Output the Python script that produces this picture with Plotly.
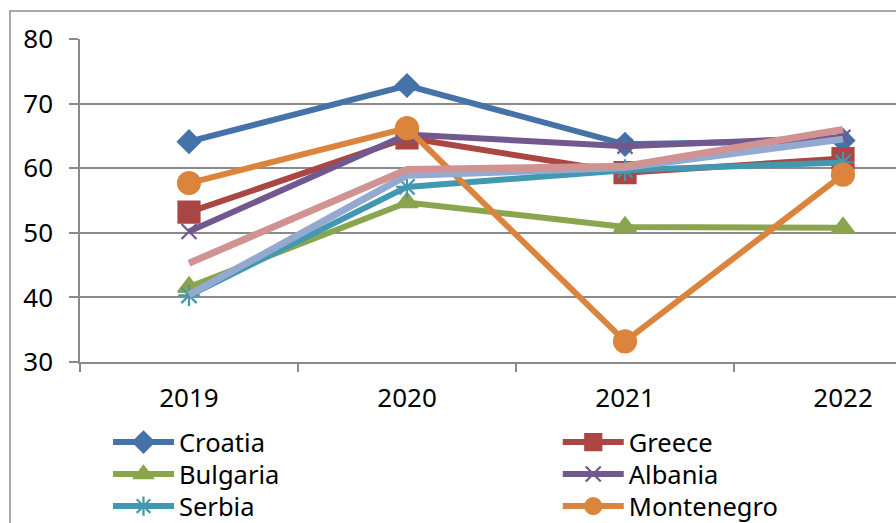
import plotly.graph_objects as go

years = ["2019", "2020", "2021", "2022"]
x_idx = [0, 1, 2, 3]

croatia = [64.1, 72.8, 63.7, 64.3]
greece = [53.2, 64.7, 59.3, 61.5]
bulgaria = [41.6, 54.7, 50.9, 50.8]
albania = [50.2, 65.2, 63.4, 64.8]
serbia = [40.3, 57.1, 59.7, 60.9]
montenegro = [57.7, 66.2, 33.2, 59.0]
series7 = [40.4, 58.9, 60.1, 64.5]
series8 = [45.3, 59.8, 60.3, 66.0]

# name, values, colour, marker symbol, marker size
series = [
    ("Croatia", croatia, "#4572A7", "diamond", 17),
    ("Greece", greece, "#AA4643", "square", 21),
    ("Bulgaria", bulgaria, "#89A54E", "triangle-up", 19),
    ("Albania", albania, "#71588F", "x-thin", 15),
    ("Serbia", serbia, "#4198AF", "asterisk", 18),
    ("Montenegro", montenegro, "#DB843D", "circle", 22),
    ("North Macedonia", series7, "#93A9CF", None, 0),
    ("Bosnia and Herzegovina", series8, "#D19392", None, 0),
]

# legend slot layout: two columns, rows in reading order
legend_cols_x = [0.0343, 0.5855]
legend_rows_y = [-0.1765, -0.2755, -0.3746]

fig = go.Figure()
legend_layouts = {}
slot = 0
for name, vals, color, sym, size in series:
    if sym is None:
        fig.add_trace(go.Scatter(
            x=x_idx, y=vals, name=name, mode="lines",
            line=dict(color=color, width=7), showlegend=False))
        continue
    lname = "legend" if slot == 0 else f"legend{slot + 1}"
    legend_layouts[lname] = (legend_cols_x[slot % 2], legend_rows_y[slot // 2])
    fig.add_trace(go.Scatter(
        x=x_idx, y=vals, name=name, mode="lines+markers",
        line=dict(color=color, width=6),
        marker=dict(symbol=sym, size=size, color=color,
                    line=dict(color=color, width=2.2)),
        legend=lname, showlegend=True))
    slot += 1

axis_gray = "#8a8a8a"
font = dict(family="Noto Sans, Liberation Sans, sans-serif", size=25, color="#000000")
tick_font = dict(family="Noto Sans, Liberation Sans, sans-serif", size=26, color="#000000")
legend_font = dict(family="Noto Sans, Liberation Sans, sans-serif", size=25.5, color="#000000")

layout_legends = {}
for lname, (lx, ly) in legend_layouts.items():
    layout_legends[lname] = dict(
        orientation="v", x=lx, xanchor="left", y=ly, yanchor="top",
        itemwidth=61, font=legend_font, bgcolor="rgba(0,0,0,0)", tracegroupgap=0,
    )

fig.update_layout(
    width=896, height=523,
    margin=dict(l=80, r=0, t=39, b=161, autoexpand=False),
    paper_bgcolor="white", plot_bgcolor="white",
    font=font,
    xaxis=dict(
        range=[-0.5, 3.243], tickmode="array", tickvals=x_idx, ticktext=years,
        ticks="", showgrid=False, zeroline=False,
        showline=True, linecolor=axis_gray, linewidth=1.5,
        ticklabelstandoff=12, tickfont=tick_font,
        minor=dict(tickmode="array", tickvals=[-0.5, 0.5, 1.5, 2.5],
                   ticks="outside", ticklen=8, tickwidth=1.5, tickcolor=axis_gray,
                   showgrid=False),
        fixedrange=True,
    ),
    yaxis=dict(
        range=[30, 80], tickmode="array", tickvals=[30, 40, 50, 60, 70, 80],
        ticks="outside", ticklen=9, tickwidth=1.5, tickcolor=axis_gray,
        showgrid=True, gridcolor=axis_gray, gridwidth=1.5,
        zeroline=False, showline=True, linecolor=axis_gray, linewidth=1.5,
        ticklabelstandoff=11, tickfont=tick_font,
    ),
    shapes=[dict(type="rect", xref="paper", yref="paper",
                 x0=-0.0858, x1=1.05, y0=-0.55, y1=1.0867,
                 line=dict(color="#8c8c8c", width=1.5), fillcolor="rgba(0,0,0,0)",
                 layer="below")],
    **layout_legends,
)

fig.write_html("out.html")
